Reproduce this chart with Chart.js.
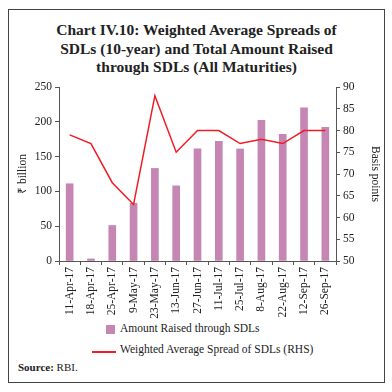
<!DOCTYPE html>
<html lang="en">
<head>
<meta charset="UTF-8">
<title>Chart IV.10</title>
<script src="https://cdn.jsdelivr.net/npm/chart.js"></script>
<style>
    html, body { margin: 0; padding: 0; background: #fff; }
    body { width: 392px; height: 392px; position: relative; font-family: "Liberation Serif", serif; color: #222; }
    #frame { position: absolute; left: 8px; top: 9px; width: 375px; height: 372px; border: 1px solid #444; }
    #title { position: absolute; left: 0; top: 11px; width: 375px; text-align: center; font-weight: bold; font-size: 15.5px; line-height: 18.5px; }
    #wrap { position: absolute; left: 0; top: 67px; width: 375px; height: 242px; }
    .leg { position: absolute; font-size: 11.5px; white-space: nowrap; }
    .sw { position: absolute; }
    #source { position: absolute; left: 9px; top: 351px; font-size: 11px; }
</style>
</head>
<body>
<div id="frame">
    <div id="title">Chart IV.10: Weighted Average Spreads of<br>SDLs (10-year) and Total Amount Raised<br>through SDLs (All Maturities)</div>
    <div id="wrap"><canvas id="chart"></canvas></div>
    <div class="sw" style="left:97px; top:315px; width:9px; height:9px; background:#c586b4;"></div>
    <div class="leg" style="left:111px; top:312px;">Amount Raised through SDLs</div>
    <div class="sw" style="left:83px; top:341px; width:24px; height:1.5px; background:#ee1c25;"></div>
    <div class="leg" style="left:111px; top:333px;">Weighted Average Spread of SDLs (RHS)</div>
    <div id="source"><b>Source:</b> RBI.</div>
</div>
<script>
    const dates = ['11-Apr-17', '18-Apr-17', '25-Apr-17', '9-May-17', '23-May-17', '13-Jun-17', '27-Jun-17',
                   '11-Jul-17', '25-Jul-17', '8-Aug-17', '22-Aug-17', '12-Sep-17', '26-Sep-17'];
    const amountRaised = [111, 3, 51, 83, 133, 108, 161, 172, 161, 202, 182, 220, 192];
    const avgSpread = [79, 77, 68, 63, 88, 75, 80, 80, 77, 78, 77, 80, 80];
    const leftTicks = [0, 50, 100, 150, 200, 250];
    const rightTicks = [50, 55, 60, 65, 70, 75, 80, 85, 90];

    const tickFont = { family: 'Liberation Serif', size: 11.5 };
    const axisGrey = '#555';

    const canvas = document.getElementById('chart');
    canvas.width = 375;
    canvas.height = 242;

    new Chart(canvas.getContext('2d'), {
        data: {
            labels: dates,
            datasets: [
                {
                    type: 'line',
                    label: 'Weighted Average Spread of SDLs (RHS)',
                    data: avgSpread,
                    yAxisID: 'yRight',
                    borderColor: '#ee1c25',
                    borderWidth: 1.5,
                    pointRadius: 0,
                    tension: 0
                },
                {
                    type: 'bar',
                    label: 'Amount Raised through SDLs',
                    data: amountRaised,
                    yAxisID: 'yLeft',
                    backgroundColor: '#c586b4',
                    barThickness: 7
                }
            ]
        },
        options: {
            responsive: false,
            animation: false,
            layout: { padding: { top: 10, left: 0, right: 0, bottom: 0 } },
            plugins: {
                legend: { display: false },
                tooltip: { enabled: false }
            },
            scales: {
                x: {
                    offset: true,
                    grid: { display: true, drawOnChartArea: false, offset: true, tickLength: 4, color: axisGrey },
                    border: { color: axisGrey, width: 1 },
                    ticks: { font: tickFont, color: '#222', maxRotation: 90, minRotation: 90, autoSkip: false, padding: 2 },
                    afterFit: (s) => { s.height = 58; }
                },
                yLeft: {
                    position: 'left',
                    min: 0, max: 250,
                    afterBuildTicks: (s) => { s.ticks = leftTicks.map(v => ({ value: v })); },
                    grid: { drawOnChartArea: false, tickLength: 4, color: axisGrey },
                    border: { color: axisGrey, width: 1 },
                    ticks: { font: tickFont, color: '#222', padding: 3 },
                    title: { display: true, text: '₹ billion', font: tickFont, color: '#222', padding: 7 },
                    afterFit: (s) => { s.width = 50; }
                },
                yRight: {
                    position: 'right',
                    min: 50, max: 90,
                    afterBuildTicks: (s) => { s.ticks = rightTicks.map(v => ({ value: v })); },
                    grid: { drawOnChartArea: false, tickLength: 4, color: axisGrey },
                    border: { color: axisGrey, width: 1 },
                    ticks: { font: tickFont, color: '#222', padding: 3 },
                    title: { display: true, text: 'Basis points', font: tickFont, color: '#222', padding: 2 },
                    afterFit: (s) => { s.width = 48; }
                }
            }
        }
    });
</script>
</body>
</html>
